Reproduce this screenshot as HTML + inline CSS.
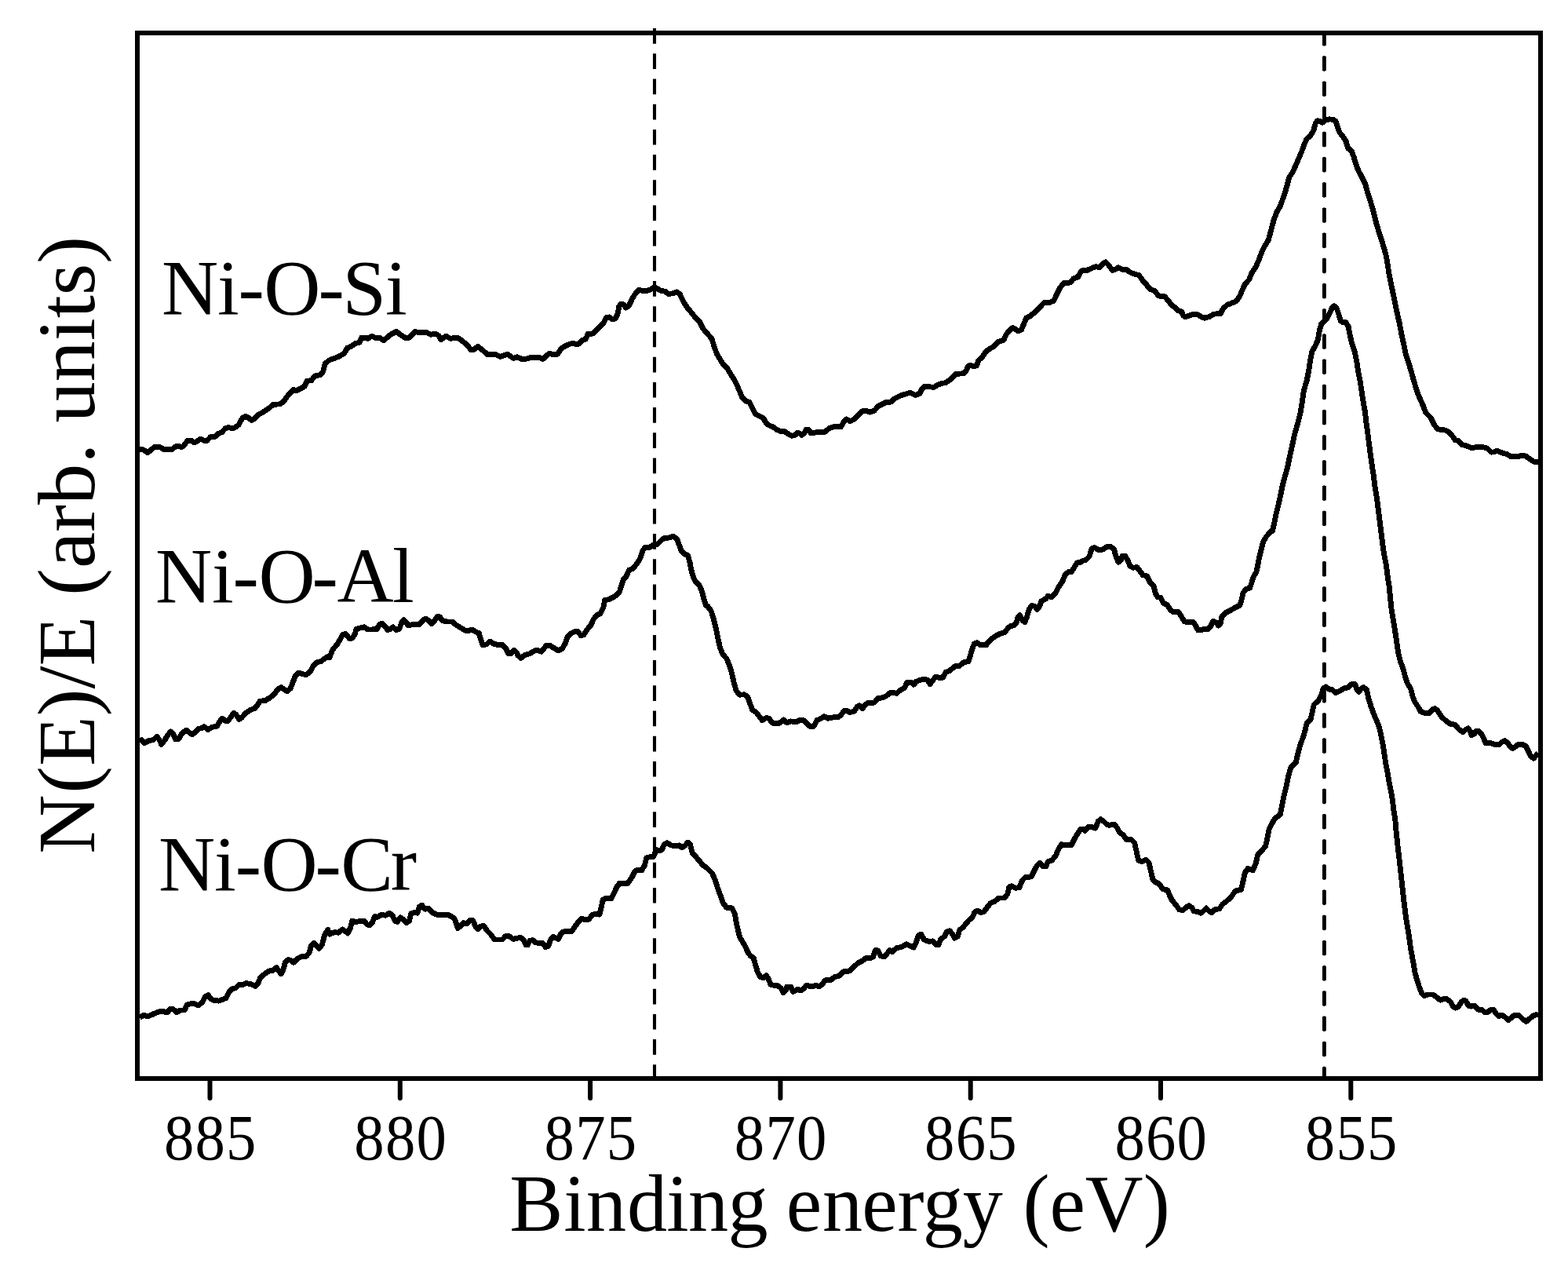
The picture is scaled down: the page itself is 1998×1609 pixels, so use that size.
<!DOCTYPE html>
<html>
<head>
<meta charset="utf-8">
<title>Ni 2p XPS spectra</title>
<style>
html,body{margin:0;padding:0;background:#fff;}
body{width:1998px;height:1609px;overflow:hidden;}
svg{display:block;}
text{font-family:"Liberation Serif",serif;fill:#000;}
.tick{font-size:82.5px;text-anchor:middle;}
.lab{font-size:100px;}
.axis{font-size:103.5px;text-anchor:middle;}
</style>
</head>
<body>
<svg width="1998" height="1609" viewBox="0 0 1998 1609">
<rect x="0" y="0" width="1998" height="1609" fill="#fff"/>
<!-- dashed reference lines -->
<g stroke="#000" fill="none">
<line x1="834" y1="36.1" x2="834" y2="1374" stroke-width="4.1" stroke-dasharray="19.7 12.5"/>
<line x1="1687.4" y1="39.6" x2="1687.4" y2="1374" stroke-width="4.8" stroke-dasharray="18.3 13.89"/>
<line x1="1687.4" y1="41.3" x2="1687.4" y2="1374" stroke-dashoffset="0.8" stroke-width="3.4" stroke-dasharray="16.5 15.69" stroke-linecap="round"/>
</g>
<!-- spectra -->
<g stroke="#000" stroke-width="6.9" fill="none" stroke-linejoin="round" stroke-linecap="butt" shape-rendering="crispEdges">
<path d="M178.0,572.4 L182.5,572.9 L188.1,576.7 L196.9,569.5 L203.8,569.5 L208.8,572.7 L218.8,572.7 L223.8,568.9 L227.6,568.5 L231.3,569.5 L233.8,568.3 L238.8,561.6 L243.8,561.4 L247.6,563.9 L251.3,562.0 L255.7,559.1 L260.1,561.4 L263.8,561.4 L268.2,556.6 L273.9,556.4 L277.6,552.6 L282.6,550.8 L287.0,545.8 L290.7,544.5 L295.1,545.5 L298.9,545.1 L303.9,541.4 L308.9,532.6 L313.3,530.4 L317.0,532.6 L320.8,535.4 L324.5,533.2 L328.9,528.2 L335.2,525.1 L342.7,520.1 L347.7,515.7 L352.7,515.1 L357.1,514.8 L362.1,510.7 L367.7,502.6 L374.0,496.6 L377.7,497.6 L382.7,495.1 L387.7,492.6 L391.5,485.1 L396.5,484.8 L401.5,478.8 L407.7,477.8 L411.5,473.8 L414.0,463.8 L419.0,459.0 L421.3,458.2 L431.3,454.5 L438.8,450.1 L442.5,443.2 L447.5,441.4 L452.5,437.6 L458.2,436.3 L460.7,430.1 L465.1,430.3 L468.8,431.3 L473.8,428.2 L478.8,430.7 L483.8,430.3 L488.8,433.6 L493.2,430.1 L497.6,426.3 L505.1,422.3 L510.1,426.3 L516.4,430.3 L521.4,430.1 L525.1,426.3 L528.9,422.6 L535.1,423.8 L543.9,423.8 L548.9,426.3 L555.1,425.1 L558.9,427.6 L562.0,432.6 L568.3,428.2 L573.9,431.3 L582.7,430.1 L587.7,433.2 L595.2,439.5 L600.2,445.7 L603.9,445.4 L608.9,441.4 L615.2,446.4 L621.5,452.0 L630.2,451.1 L637.7,454.5 L646.5,451.1 L654.0,456.4 L659.0,454.9 L665.0,457.4 L671.3,457.0 L675.0,455.8 L687.5,455.4 L691.9,457.4 L696.3,453.3 L700.1,450.2 L705.1,452.0 L710.1,451.4 L715.1,443.9 L720.1,440.8 L725.1,438.6 L730.1,437.0 L735.1,438.9 L738.8,437.0 L742.0,433.3 L746.3,432.0 L749.5,425.1 L755.1,425.1 L758.9,422.0 L763.9,416.4 L768.9,411.4 L772.6,404.5 L776.4,403.9 L780.1,406.6 L783.9,406.1 L787.0,400.1 L788.9,390.1 L791.4,387.0 L794.5,388.2 L797.6,392.0 L801.4,389.5 L805.2,381.3 L808.9,375.1 L813.9,369.4 L817.7,370.1 L825.2,370.1 L830.2,368.2 L833.9,365.7 L837.7,367.6 L842.7,370.7 L847.7,371.1 L851.5,374.4 L857.7,373.8 L862.7,371.9 L866.5,375.1 L870.2,383.2 L875.2,391.3 L881.5,398.8 L886.5,405.1 L891.5,410.1 L895.2,417.6 L899.0,422.6 L901.3,425.0 L906.9,431.3 L910.0,441.3 L913.1,450.1 L917.5,457.6 L921.3,463.8 L926.3,468.8 L931.3,477.0 L935.0,482.6 L938.8,490.1 L942.6,498.8 L945.7,506.4 L950.1,510.7 L955.1,512.6 L958.8,520.1 L962.6,527.6 L967.6,530.1 L972.6,532.6 L976.3,538.9 L980.1,542.0 L985.1,543.9 L990.1,547.6 L995.1,549.5 L1000.1,549.9 L1005.1,553.3 L1008.9,555.2 L1012.6,554.5 L1015.8,551.7 L1018.9,552.0 L1021.4,554.5 L1024.5,552.0 L1027.6,547.0 L1030.8,547.6 L1033.3,552.0 L1037.6,551.4 L1042.7,550.2 L1051.4,550.2 L1056.4,545.8 L1061.4,543.9 L1071.4,543.9 L1075.2,537.6 L1078.3,533.9 L1083.3,536.6 L1087.7,534.5 L1092.7,529.5 L1099.0,523.9 L1104.0,523.2 L1108.3,525.1 L1114.0,523.2 L1119.0,517.6 L1124.0,515.1 L1129.0,512.6 L1135.2,512.0 L1139.0,508.2 L1141.3,507.1 L1147.5,503.9 L1153.8,502.1 L1159.4,500.2 L1166.3,503.3 L1171.9,501.4 L1175.0,495.2 L1178.2,492.0 L1182.6,492.7 L1190.1,493.3 L1195.1,490.2 L1200.1,488.3 L1205.1,487.7 L1211.3,483.3 L1217.6,476.4 L1227.6,475.8 L1231.4,472.0 L1233.2,467.0 L1236.4,465.1 L1240.7,467.0 L1244.5,465.8 L1247.0,458.9 L1252.0,454.5 L1255.8,448.3 L1260.1,445.1 L1266.4,441.4 L1271.4,435.7 L1275.1,434.5 L1278.9,433.2 L1282.0,426.4 L1285.2,422.0 L1290.2,417.6 L1293.9,419.5 L1297.7,422.0 L1301.4,420.1 L1305.2,411.3 L1307.7,405.1 L1312.7,402.6 L1318.9,397.6 L1323.9,392.6 L1330.2,385.7 L1336.5,385.7 L1342.7,383.2 L1346.5,375.1 L1350.2,367.5 L1355.2,360.7 L1364.0,360.0 L1367.7,355.0 L1373.4,353.2 L1377.1,346.3 L1379.6,344.4 L1385.0,344.5 L1390.6,342.0 L1396.3,339.5 L1400.7,340.7 L1405.0,336.3 L1408.8,333.8 L1412.5,337.6 L1417.5,344.5 L1421.3,343.2 L1425.1,340.7 L1430.1,343.2 L1435.1,343.2 L1440.1,347.0 L1445.1,348.8 L1451.3,350.7 L1456.3,357.6 L1461.3,363.2 L1465.1,368.2 L1471.4,370.7 L1476.4,377.0 L1483.9,377.6 L1488.9,383.3 L1492.6,388.3 L1497.6,392.0 L1501.4,395.8 L1505.8,397.0 L1507.6,402.0 L1510.1,403.9 L1515.1,402.0 L1521.4,400.2 L1526.4,400.8 L1531.4,403.9 L1535.2,405.2 L1541.4,403.3 L1546.4,400.2 L1555.2,399.5 L1558.9,392.6 L1563.9,388.3 L1570.2,385.8 L1575.2,383.9 L1580.2,376.4 L1582.7,370.1 L1586.5,362.0 L1591.5,356.4 L1595.2,347.6 L1600.2,340.1 L1604.0,331.3 L1607.7,321.3 L1611.5,313.8 L1616.5,305.1 L1623.1,280.2 L1626.9,270.1 L1631.3,262.6 L1634.4,253.9 L1637.5,245.1 L1640.0,236.4 L1642.5,226.3 L1647.5,218.8 L1651.3,210.1 L1655.1,201.3 L1658.8,192.6 L1661.9,183.8 L1665.1,176.9 L1669.4,173.2 L1673.8,166.3 L1676.3,156.9 L1678.8,153.8 L1682.6,154.4 L1685.1,156.3 L1688.8,153.1 L1693.8,151.9 L1698.8,152.3 L1702.0,154.4 L1703.9,160.7 L1707.0,168.8 L1711.4,174.4 L1715.1,180.1 L1717.6,188.8 L1722.0,191.9 L1725.1,200.1 L1727.6,208.8 L1730.8,217.0 L1735.1,225.1 L1739.5,233.9 L1742.6,245.1 L1745.8,255.1 L1748.9,265.1 L1751.4,275.1 L1753.9,285.2 L1757.0,295.2 L1760.2,305.2 L1763.3,315.2 L1766.4,326.4 L1768.2,337.5 L1770.7,352.6 L1773.8,367.6 L1776.9,382.6 L1780.0,397.6 L1783.2,411.4 L1785.7,425.1 L1788.8,438.9 L1791.3,451.4 L1795.1,462.7 L1798.8,475.2 L1801.9,486.4 L1805.7,498.9 L1809.0,507.0 L1813.0,516.0 L1817.0,526.1 L1823.0,532.1 L1827.0,540.1 L1831.1,546.1 L1836.1,547.6 L1842.1,548.1 L1847.1,551.1 L1851.1,556.1 L1854.1,560.6 L1858.1,561.6 L1863.1,566.6 L1869.1,568.1 L1875.1,570.6 L1881.1,569.6 L1889.1,569.6 L1895.1,571.1 L1900.1,576.1 L1904.1,575.9 L1907.1,574.1 L1912.1,576.3 L1920.1,578.6 L1925.1,581.6 L1933.2,581.9 L1939.2,580.1 L1944.2,581.1 L1949.2,584.6 L1954.2,588.1 L1960.0,588.6"/>
<path d="M178.0,942.0 L180.6,942.7 L184.4,946.7 L188.8,943.9 L195.0,942.7 L200.0,938.3 L203.2,942.7 L205.7,948.3 L210.0,942.7 L213.8,936.4 L217.5,932.0 L220.7,935.2 L223.8,942.0 L227.6,941.4 L232.6,933.3 L237.6,930.2 L241.3,933.3 L245.1,935.8 L249.5,932.0 L252.6,928.3 L257.6,927.6 L260.1,925.8 L265.1,929.5 L270.1,926.4 L276.4,925.1 L280.1,918.9 L283.2,915.1 L287.0,918.3 L290.1,918.9 L293.9,913.9 L297.6,908.3 L300.8,910.1 L304.5,916.4 L308.3,913.9 L313.3,908.3 L318.9,904.5 L325.2,902.0 L328.9,897.0 L331.4,893.2 L337.7,892.6 L343.9,888.9 L348.9,885.1 L353.9,878.2 L358.3,875.7 L362.7,878.8 L365.8,880.7 L370.2,877.0 L373.3,868.8 L376.5,860.7 L380.8,857.0 L385.2,858.8 L390.2,859.5 L395.2,855.7 L399.0,848.8 L404.0,843.8 L409.0,842.6 L414.0,838.8 L419.0,835.7 L420.0,837.6 L423.8,827.6 L428.8,822.0 L433.1,815.1 L436.9,808.2 L440.7,807.6 L445.0,813.2 L448.8,813.2 L452.5,807.6 L453.8,801.4 L458.8,800.1 L463.8,798.8 L468.8,802.0 L473.8,802.0 L480.1,801.6 L483.8,795.1 L487.6,794.5 L491.3,798.8 L493.8,802.6 L497.6,801.4 L500.7,798.8 L505.1,802.6 L508.8,801.4 L512.0,792.6 L514.5,789.5 L517.6,792.6 L520.1,797.0 L525.1,795.7 L530.1,795.7 L535.1,795.1 L538.9,790.1 L542.6,788.2 L546.4,790.7 L550.1,794.5 L553.9,790.7 L557.0,785.7 L560.2,785.7 L563.9,790.7 L570.2,792.0 L576.4,792.0 L581.4,796.3 L587.7,800.1 L592.7,803.2 L597.7,803.2 L601.4,802.0 L606.4,805.1 L610.2,806.4 L612.7,815.1 L615.2,822.0 L620.2,820.7 L624.0,817.0 L629.0,820.1 L634.0,821.4 L640.2,821.4 L644.0,825.1 L647.7,832.6 L651.5,832.6 L655.2,828.3 L659.0,832.0 L660.0,835.2 L663.8,838.3 L668.8,834.5 L675.0,832.7 L681.3,828.9 L686.3,828.9 L690.0,830.2 L693.8,825.2 L696.3,822.0 L701.3,822.7 L706.3,825.8 L711.3,828.9 L716.3,826.4 L720.1,820.2 L723.2,811.4 L727.6,807.0 L732.6,804.5 L736.3,804.5 L740.1,809.5 L743.8,808.9 L747.6,802.6 L752.6,797.0 L756.4,788.9 L760.1,783.9 L765.1,781.4 L768.9,773.9 L770.7,764.5 L775.1,763.9 L780.1,761.4 L785.1,758.8 L789.5,753.8 L792.0,745.1 L794.5,738.2 L798.3,733.8 L801.4,726.3 L806.4,724.4 L811.4,718.2 L815.8,711.3 L818.9,701.3 L822.0,697.5 L827.7,697.3 L832.7,693.8 L837.7,693.2 L842.7,688.2 L846.4,685.7 L852.7,685.0 L857.7,683.1 L862.7,686.9 L865.2,693.8 L868.3,701.9 L872.1,705.7 L876.5,707.5 L879.0,716.3 L880.9,726.3 L883.4,735.1 L886.5,741.3 L891.5,746.3 L894.6,753.8 L897.1,763.9 L899.6,771.4 L901.9,772.5 L906.3,778.8 L909.4,788.8 L912.5,801.3 L915.0,813.8 L917.5,825.1 L920.7,833.2 L925.7,838.8 L929.4,847.6 L932.5,857.6 L935.0,868.9 L938.2,880.1 L942.6,885.1 L948.8,884.9 L952.6,887.6 L955.7,896.4 L958.8,904.5 L963.8,907.7 L967.6,912.7 L971.3,917.7 L976.3,914.5 L980.1,915.2 L983.8,920.8 L987.6,922.0 L992.6,921.4 L996.4,918.9 L998.9,917.0 L1002.6,920.8 L1007.6,918.9 L1015.1,919.5 L1020.1,917.0 L1023.9,917.7 L1027.6,921.4 L1032.6,925.8 L1037.0,925.2 L1040.8,917.7 L1045.2,915.8 L1050.2,912.7 L1055.2,915.2 L1061.4,913.9 L1067.7,913.9 L1071.4,911.4 L1075.2,905.8 L1078.9,905.2 L1082.7,907.7 L1088.9,905.8 L1092.1,900.2 L1095.2,898.9 L1099.0,902.7 L1102.7,897.6 L1106.5,895.1 L1114.0,895.1 L1119.0,889.5 L1124.0,888.9 L1129.0,887.0 L1134.0,882.6 L1139.0,882.6 L1142.5,883.3 L1147.5,878.9 L1152.5,876.4 L1155.7,869.6 L1161.3,869.6 L1164.4,872.1 L1167.5,868.3 L1172.5,866.4 L1177.5,865.2 L1181.9,866.4 L1185.1,871.4 L1188.8,866.4 L1192.6,862.0 L1197.6,863.9 L1201.3,863.3 L1205.1,856.4 L1210.1,854.5 L1213.8,851.4 L1217.6,848.3 L1222.6,848.3 L1227.6,843.9 L1233.9,842.7 L1236.4,835.1 L1238.9,826.4 L1241.4,820.1 L1245.1,818.9 L1248.9,821.4 L1256.4,822.0 L1260.1,817.0 L1265.1,812.6 L1270.1,809.5 L1275.1,807.0 L1280.2,805.7 L1284.5,800.1 L1287.7,797.6 L1291.4,797.0 L1295.2,793.2 L1297.0,786.3 L1299.5,783.8 L1302.7,790.1 L1305.8,792.6 L1308.3,786.3 L1311.4,776.3 L1314.6,771.3 L1318.9,772.6 L1321.4,776.3 L1324.6,772.6 L1327.1,765.7 L1332.7,762.6 L1335.2,759.4 L1340.2,760.7 L1345.2,755.1 L1349.0,747.6 L1354.0,740.1 L1357.7,731.3 L1361.5,728.8 L1365.2,728.8 L1369.0,722.5 L1372.7,716.9 L1377.1,716.3 L1379.6,714.4 L1383.8,713.2 L1388.1,708.8 L1391.3,698.8 L1395.0,697.6 L1400.0,700.7 L1405.0,700.1 L1410.0,696.9 L1415.0,696.3 L1419.4,699.4 L1421.9,708.8 L1425.1,716.3 L1428.2,713.8 L1430.1,708.2 L1433.8,708.2 L1436.9,713.8 L1440.1,721.3 L1443.8,723.2 L1448.8,722.6 L1452.6,727.6 L1456.3,732.6 L1461.3,733.8 L1465.1,741.4 L1470.1,746.4 L1472.0,755.1 L1475.1,760.7 L1478.9,761.4 L1482.6,768.3 L1487.6,770.8 L1491.4,777.0 L1495.1,779.5 L1501.4,779.5 L1505.1,785.1 L1508.9,791.4 L1512.6,792.7 L1520.2,792.4 L1523.3,796.4 L1526.4,802.7 L1530.2,802.7 L1533.9,801.4 L1538.9,802.0 L1542.7,797.7 L1545.8,791.4 L1549.6,793.3 L1552.7,797.0 L1555.2,793.9 L1557.1,785.1 L1561.4,780.8 L1567.7,777.6 L1574.0,773.9 L1579.6,771.4 L1582.1,763.9 L1584.0,755.1 L1587.7,750.7 L1592.7,748.9 L1595.2,741.4 L1597.1,735.1 L1600.9,728.8 L1602.7,720.1 L1604.6,710.1 L1607.1,700.1 L1609.6,690.1 L1613.4,683.8 L1619.0,677.5 L1621.3,676.4 L1623.8,666.4 L1626.3,653.8 L1629.4,641.3 L1631.9,630.1 L1634.4,617.6 L1637.5,606.3 L1640.7,595.0 L1643.2,582.5 L1645.7,571.3 L1648.2,560.0 L1650.1,551.4 L1653.8,538.9 L1656.9,526.4 L1659.4,511.4 L1661.3,497.6 L1665.1,485.1 L1667.6,472.6 L1669.4,460.1 L1671.9,447.6 L1676.3,440.1 L1679.5,432.6 L1681.3,421.3 L1683.8,412.5 L1687.6,408.8 L1691.3,405.0 L1695.1,397.5 L1697.6,391.3 L1700.1,389.8 L1703.2,392.5 L1705.7,400.0 L1708.2,408.8 L1711.4,410.7 L1715.1,410.7 L1718.2,416.3 L1720.1,426.3 L1722.6,437.6 L1726.4,448.8 L1728.9,461.3 L1730.8,473.9 L1733.3,486.4 L1735.1,498.9 L1737.0,511.4 L1739.5,525.2 L1740.8,537.7 L1742.6,550.2 L1744.5,565.2 L1747.6,588.8 L1750.2,605.0 L1752.0,620.1 L1754.5,635.1 L1756.4,650.1 L1758.3,665.1 L1760.2,680.1 L1762.0,695.1 L1763.9,707.6 L1766.4,720.2 L1768.3,735.2 L1770.2,747.7 L1771.4,759.9 L1773.2,777.5 L1775.7,792.5 L1778.2,807.6 L1780.0,820.1 L1781.9,832.6 L1784.4,842.6 L1788.2,852.6 L1790.7,862.6 L1793.2,870.1 L1797.6,877.6 L1800.1,887.6 L1802.6,893.9 L1807.6,901.4 L1810.1,906.4 L1815.1,908.3 L1821.3,908.9 L1825.1,903.9 L1828.8,902.7 L1832.6,906.4 L1837.6,913.9 L1842.6,918.3 L1847.6,922.0 L1853.9,923.3 L1858.9,928.9 L1863.9,932.7 L1867.6,929.6 L1870.8,927.7 L1873.3,931.4 L1875.1,936.4 L1878.3,935.2 L1880.8,931.4 L1883.9,931.4 L1888.3,935.8 L1891.4,942.7 L1893.1,946.6 L1900.1,946.9 L1905.1,948.6 L1910.1,948.6 L1914.1,945.1 L1917.6,943.6 L1921.1,946.6 L1924.1,951.1 L1927.6,953.6 L1931.2,951.1 L1934.2,948.6 L1940.2,948.6 L1944.2,950.6 L1947.2,956.1 L1950.2,963.1 L1954.2,966.1 L1957.7,962.1 L1960.0,959.1"/>
<path d="M178.0,1296.4 L183.1,1293.3 L188.8,1294.9 L195.0,1292.0 L202.5,1288.9 L207.5,1288.3 L211.3,1289.5 L213.8,1289.5 L216.9,1285.1 L220.7,1285.8 L225.1,1289.5 L230.1,1287.0 L235.1,1287.0 L238.2,1280.1 L242.6,1278.9 L247.6,1278.6 L252.6,1280.8 L257.6,1277.0 L261.3,1270.1 L265.1,1267.6 L268.8,1272.6 L272.6,1274.5 L278.9,1275.1 L283.9,1273.3 L288.2,1271.4 L292.0,1263.2 L296.4,1259.5 L300.1,1258.9 L304.5,1254.5 L308.9,1254.5 L313.9,1252.6 L320.2,1253.9 L325.2,1256.4 L328.9,1252.6 L331.4,1246.4 L336.4,1241.4 L342.7,1237.0 L347.7,1236.3 L352.1,1232.6 L355.2,1237.0 L358.3,1240.7 L361.4,1233.8 L363.3,1226.3 L367.1,1222.6 L370.2,1223.2 L374.0,1226.3 L379.0,1221.3 L384.0,1218.8 L390.2,1218.2 L394.0,1213.8 L396.5,1205.1 L400.2,1201.3 L403.4,1205.1 L406.5,1208.2 L410.2,1203.8 L414.0,1190.1 L417.7,1184.4 L420.0,1190.1 L426.3,1187.6 L431.3,1188.2 L436.3,1183.9 L440.0,1186.4 L443.2,1188.9 L446.3,1182.6 L448.8,1173.2 L453.2,1174.5 L458.8,1173.6 L463.8,1173.2 L467.6,1177.6 L471.3,1178.8 L474.4,1175.1 L477.6,1167.6 L481.3,1168.2 L486.3,1165.1 L491.3,1166.3 L496.3,1163.2 L500.1,1166.3 L503.2,1173.2 L506.3,1174.5 L510.1,1168.8 L513.9,1171.3 L517.6,1175.7 L521.4,1173.2 L523.9,1163.8 L527.6,1162.6 L532.0,1163.2 L534.5,1155.1 L537.6,1153.2 L541.4,1158.2 L546.4,1157.6 L550.1,1162.0 L556.4,1165.1 L562.7,1165.3 L570.2,1165.1 L575.2,1167.6 L578.9,1170.1 L581.4,1176.3 L583.3,1182.6 L586.4,1180.1 L590.2,1175.7 L595.2,1177.0 L598.9,1172.6 L602.7,1172.6 L605.8,1180.1 L608.9,1183.9 L612.7,1180.1 L616.5,1179.5 L620.2,1185.1 L625.2,1190.1 L630.2,1197.0 L640.2,1197.0 L644.0,1192.6 L647.7,1192.0 L654.0,1196.4 L659.0,1195.1 L663.8,1194.5 L667.5,1197.7 L670.0,1203.9 L672.5,1203.9 L675.0,1198.3 L678.8,1197.7 L682.5,1200.8 L687.5,1201.4 L691.3,1201.4 L695.0,1206.4 L698.8,1205.2 L701.3,1197.7 L705.1,1193.3 L708.8,1195.2 L711.3,1196.4 L714.4,1190.2 L717.6,1187.0 L722.6,1186.6 L728.8,1186.4 L732.6,1180.1 L737.6,1173.9 L741.3,1170.1 L746.3,1172.0 L750.1,1171.4 L755.1,1165.1 L758.9,1164.5 L763.9,1165.1 L766.4,1155.1 L768.2,1146.4 L772.0,1144.5 L778.9,1144.5 L782.6,1137.6 L785.8,1130.1 L789.5,1125.1 L795.1,1125.7 L800.2,1125.1 L805.2,1117.6 L808.9,1110.1 L812.7,1108.2 L817.7,1108.8 L821.4,1102.6 L823.9,1092.6 L827.7,1091.9 L832.7,1091.3 L836.4,1082.5 L840.2,1083.8 L843.3,1082.5 L846.4,1075.7 L850.2,1073.8 L855.2,1076.9 L860.2,1077.5 L865.2,1076.9 L869.0,1080.0 L872.7,1077.5 L876.5,1073.2 L879.6,1076.3 L882.1,1086.3 L886.5,1091.3 L890.9,1096.3 L895.2,1101.9 L899.0,1104.4 L901.3,1106.3 L907.5,1112.5 L911.3,1121.3 L914.4,1131.3 L918.2,1141.3 L921.3,1150.1 L925.7,1156.3 L932.5,1156.9 L936.3,1163.8 L938.2,1175.1 L940.7,1186.3 L942.6,1193.9 L946.3,1200.1 L950.1,1206.4 L953.2,1213.9 L956.3,1217.6 L960.1,1220.1 L962.6,1228.9 L965.1,1237.6 L968.8,1244.5 L972.6,1245.8 L976.3,1242.7 L979.5,1247.7 L982.0,1254.5 L986.3,1255.2 L991.4,1255.8 L995.1,1258.9 L998.2,1264.5 L1001.4,1261.4 L1002.6,1257.0 L1007.6,1257.0 L1010.7,1263.3 L1013.9,1262.0 L1016.4,1260.2 L1020.1,1262.0 L1023.9,1259.5 L1027.6,1255.2 L1031.4,1256.4 L1035.1,1257.0 L1039.5,1255.2 L1043.9,1257.0 L1047.7,1253.9 L1051.4,1248.9 L1058.9,1248.3 L1063.9,1244.5 L1068.9,1243.3 L1075.2,1237.6 L1082.7,1237.0 L1088.9,1230.8 L1094.0,1226.4 L1099.0,1223.9 L1104.0,1220.1 L1109.0,1220.8 L1112.7,1218.9 L1115.2,1210.7 L1118.4,1210.7 L1122.1,1217.6 L1126.5,1218.9 L1130.2,1215.1 L1133.4,1210.7 L1137.1,1212.6 L1139.6,1210.1 L1142.5,1207.7 L1148.8,1206.4 L1155.0,1202.7 L1160.0,1205.2 L1164.4,1207.0 L1167.5,1200.2 L1170.0,1192.0 L1173.8,1190.2 L1177.5,1197.0 L1182.6,1199.2 L1188.8,1198.9 L1192.6,1203.3 L1195.7,1203.9 L1198.8,1196.4 L1203.8,1192.7 L1206.3,1187.0 L1210.1,1185.8 L1213.8,1190.2 L1216.3,1195.2 L1220.1,1193.3 L1222.6,1185.1 L1227.6,1180.8 L1231.4,1175.8 L1235.1,1172.0 L1238.9,1168.9 L1242.0,1162.0 L1245.7,1160.1 L1250.1,1162.6 L1253.9,1161.4 L1257.6,1156.4 L1262.0,1150.7 L1267.6,1148.2 L1272.6,1144.1 L1280.2,1143.9 L1283.9,1138.8 L1285.8,1130.1 L1288.9,1128.8 L1293.9,1131.3 L1298.9,1130.7 L1302.7,1121.3 L1306.4,1117.6 L1313.9,1117.0 L1317.7,1109.4 L1321.4,1102.6 L1325.2,1099.4 L1328.9,1103.8 L1332.7,1103.8 L1335.2,1097.6 L1340.2,1096.3 L1345.2,1090.1 L1349.0,1081.3 L1352.7,1075.7 L1359.0,1076.9 L1365.2,1076.9 L1369.0,1068.8 L1372.7,1062.5 L1377.1,1056.3 L1379.6,1056.3 L1382.5,1058.2 L1387.5,1053.2 L1391.9,1053.8 L1395.7,1055.1 L1399.4,1046.3 L1402.5,1043.8 L1406.3,1046.3 L1410.0,1050.1 L1413.8,1051.3 L1420.1,1050.1 L1423.8,1055.1 L1426.3,1060.1 L1431.3,1063.8 L1435.1,1069.4 L1441.3,1069.4 L1445.7,1073.8 L1448.2,1085.1 L1450.7,1096.3 L1455.1,1097.6 L1460.1,1095.1 L1463.8,1098.8 L1466.3,1108.9 L1468.8,1120.1 L1472.6,1123.9 L1477.6,1126.4 L1481.4,1132.6 L1487.6,1133.9 L1490.7,1141.4 L1493.9,1147.6 L1498.9,1153.3 L1502.6,1158.9 L1507.6,1159.5 L1511.4,1155.8 L1515.1,1153.9 L1518.9,1156.4 L1521.4,1160.8 L1526.4,1161.4 L1530.2,1163.3 L1533.9,1160.2 L1537.0,1157.0 L1540.2,1160.2 L1543.9,1162.7 L1547.7,1158.9 L1553.9,1157.7 L1557.7,1152.0 L1562.7,1148.3 L1568.9,1142.6 L1574.0,1135.1 L1581.5,1133.3 L1584.0,1122.6 L1586.5,1111.4 L1590.2,1106.4 L1596.5,1108.9 L1600.2,1100.1 L1602.7,1088.8 L1607.7,1083.8 L1612.7,1077.6 L1615.2,1066.3 L1617.1,1056.3 L1619.6,1051.3 L1624.4,1042.7 L1631.3,1037.7 L1633.8,1025.2 L1636.3,1012.7 L1639.4,1000.2 L1641.9,987.6 L1645.0,977.6 L1651.3,971.4 L1653.8,960.1 L1656.9,948.8 L1660.1,940.1 L1663.2,930.1 L1665.1,921.3 L1670.1,916.3 L1672.6,905.1 L1674.4,897.5 L1680.1,892.5 L1683.8,885.0 L1686.3,876.9 L1689.5,875.0 L1693.8,878.2 L1697.6,878.8 L1702.0,882.5 L1707.6,880.0 L1712.6,876.9 L1717.6,875.7 L1722.6,871.3 L1727.0,871.9 L1728.9,878.8 L1731.4,881.3 L1734.5,877.5 L1737.6,875.7 L1741.4,878.8 L1743.9,890.0 L1747.0,900.1 L1750.2,908.8 L1753.9,917.6 L1757.0,925.1 L1759.5,935.1 L1762.0,947.6 L1763.9,960.1 L1765.8,972.6 L1768.3,985.1 L1770.2,997.6 L1772.7,1008.9 L1774.5,1020.2 L1775.8,1031.4 L1777.7,1042.7 L1778.8,1056.3 L1781.0,1077.5 L1783.2,1096.3 L1785.3,1115.1 L1787.3,1133.8 L1789.4,1152.6 L1791.9,1171.4 L1795.1,1190.2 L1797.6,1208.9 L1800.7,1225.2 L1803.2,1239.9 L1805.5,1248.0 L1809.0,1259.0 L1812.0,1266.0 L1814.5,1268.5 L1820.0,1267.0 L1826.0,1267.0 L1830.1,1270.1 L1835.1,1274.1 L1839.1,1272.6 L1843.1,1272.6 L1848.1,1276.1 L1851.6,1282.1 L1854.6,1284.1 L1858.1,1282.6 L1861.6,1277.1 L1865.1,1274.1 L1868.1,1275.6 L1871.1,1281.1 L1874.1,1282.1 L1879.1,1281.1 L1883.1,1286.1 L1888.1,1286.6 L1892.1,1289.6 L1896.1,1289.1 L1900.1,1286.1 L1903.1,1286.6 L1907.1,1292.1 L1910.1,1294.6 L1914.1,1293.1 L1918.1,1296.1 L1922.1,1299.6 L1925.1,1297.1 L1929.1,1293.6 L1935.2,1293.1 L1940.2,1298.1 L1944.7,1301.6 L1949.2,1297.6 L1954.2,1293.6 L1960.0,1292.1"/>
</g>
<!-- frame -->
<rect x="175" y="42" width="1788" height="1332" fill="none" stroke="#000" stroke-width="6"/>
<!-- ticks -->
<g stroke="#000" stroke-width="6" stroke-linecap="round">
<line x1="267.5" y1="1374" x2="267.5" y2="1399"/>
<line x1="509.8" y1="1374" x2="509.8" y2="1399"/>
<line x1="752.1" y1="1374" x2="752.1" y2="1399"/>
<line x1="994.4" y1="1374" x2="994.4" y2="1399"/>
<line x1="1236.7" y1="1374" x2="1236.7" y2="1399"/>
<line x1="1479" y1="1374" x2="1479" y2="1399"/>
<line x1="1721.3" y1="1374" x2="1721.3" y2="1399"/>
</g>
<g class="tick">
<text transform="translate(267.5,1477.4) scale(0.93,1)" x="-42.4 0.3 42.8">885</text>
<text transform="translate(509.8,1477.4) scale(0.93,1)" x="-42.4 0.3 42.8">880</text>
<text transform="translate(752.1,1477.4) scale(0.93,1)" x="-42.4 0.3 42.8">875</text>
<text transform="translate(994.4,1477.4) scale(0.93,1)" x="-42.4 0.3 42.8">870</text>
<text transform="translate(1236.7,1477.4) scale(0.93,1)" x="-42.4 0.3 42.8">865</text>
<text transform="translate(1479,1477.4) scale(0.93,1)" x="-42.4 0.3 42.8">860</text>
<text transform="translate(1721.3,1477.4) scale(0.93,1)" x="-42.4 0.3 42.8">855</text>
</g>
<text class="axis" transform="translate(1067.5,1568) scale(0.9875,1)" dx="2.5 0.8 0.5 0.8 -0.8 -0.6 -0.7 -2.5 0 1 -1">Binding energy (eV)</text>
<text class="axis" transform="translate(120,692.6) rotate(-90) scale(1.008,1)" dx="-1.8 1.8">N(E)/E (arb. units)</text>
<text class="lab" x="206.0 277.0 303.6 336.2 405.4 436.6 491.0" y="400.2">Ni-O-Si</text>
<text class="lab" x="197.9 269.9 296.4 329.5 397.6 429.4 499.9" y="767.2">Ni-O-Al</text>
<text class="lab" x="202.0 273.0 299.8 332.5 401.5 434.2 497.7" y="1134.1">Ni-O-Cr</text>
</svg>
</body>
</html>
